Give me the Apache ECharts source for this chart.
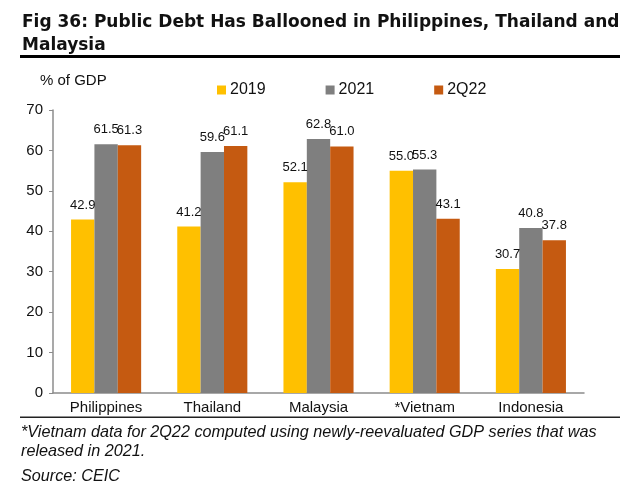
<!DOCTYPE html>
<html>
<head>
<meta charset="utf-8">
<script src="https://cdn.jsdelivr.net/npm/echarts@6/dist/echarts.min.js"></script>
<style>
html,body{margin:0;padding:0;background:#fff;}
#chart{width:640px;height:490px;}
</style>
</head>
<body>
<div id="chart"></div>
<script>
const categories = ['Philippines', 'Thailand', 'Malaysia', '*Vietnam', 'Indonesia'];
const seriesNames = ['2019', '2021', '2Q22'];
const values2019 = [42.9, 41.2, 52.1, 55.0, 30.7];
const values2021 = [61.5, 59.6, 62.8, 55.3, 40.8];
const values2Q22 = [61.3, 61.1, 61.0, 43.1, 37.8];
const yTicks = [0, 10, 20, 30, 40, 50, 60, 70];
const colors = ['#FFC000', '#7F7F7F', '#C55A11'];

const chart = echarts.init(document.getElementById('chart'), null, {renderer: 'canvas'});

function barSeries(name, data, color) {
  return {
    name: name,
    type: 'bar',
    data: data,
    barGap: '0%',
    barCategoryGap: '34%',
    itemStyle: {color: color},
    label: {
      show: true,
      position: 'top',
      distance: 8,
      color: '#111',
      fontFamily: 'Liberation Sans',
      fontSize: 13,
      formatter: p => p.value.toFixed(1)
    }
  };
}

chart.setOption({
  animation: false,
  backgroundColor: '#fff',
  title: {
    text: 'Fig 36: Public Debt Has Ballooned in Philippines, Thailand and\nMalaysia',
    left: 17,
    top: 6,
    textStyle: {
      fontFamily: 'DejaVu Sans',
      fontWeight: 'bold',
      fontSize: 17,
      lineHeight: 23,
      color: '#111'
    }
  },
  legend: {
    data: seriesNames,
    left: 212,
    top: 77,
    itemWidth: 9,
    itemHeight: 9,
    itemGap: 60,
    icon: 'rect',
    textStyle: {fontFamily: 'Liberation Sans', fontSize: 16, color: '#111', padding: [0, 0, 0, -1]}
  },
  grid: {left: 53, right: 56, top: 110, bottom: 97, containLabel: false},
  xAxis: {
    type: 'category',
    data: categories,
    axisLine: {lineStyle: {color: '#8c8c8c', width: 1.5}},
    axisTick: {show: false},
    axisLabel: {fontFamily: 'Liberation Sans', fontSize: 15, color: '#111', margin: 7}
  },
  yAxis: {
    type: 'value',
    min: yTicks[0],
    max: yTicks[yTicks.length - 1],
    interval: 10,
    splitLine: {show: false},
    axisLine: {show: true, lineStyle: {color: '#8c8c8c', width: 1.5}},
    axisTick: {show: true, length: 4, lineStyle: {color: '#8c8c8c'}},
    axisLabel: {fontFamily: 'Liberation Sans', fontSize: 15, color: '#111', margin: 10}
  },
  graphic: [
    {type: 'rect', shape: {x: 20, y: 55, width: 600, height: 3}, style: {fill: '#000'}},
    {type: 'text', left: 40, top: 73, style: {text: '% of GDP', font: '15px "Liberation Sans"', fill: '#111'}},
    {type: 'rect', shape: {x: 20, y: 416.5, width: 600, height: 1.5}, style: {fill: '#222'}},
    {type: 'text', left: 21, top: 424, style: {text: '*Vietnam data for 2Q22 computed using newly-reevaluated GDP series that was', font: 'italic 16.2px "Liberation Sans"', fill: '#111'}},
    {type: 'text', left: 21, top: 443, style: {text: 'released in 2021.', font: 'italic 16.2px "Liberation Sans"', fill: '#111'}},
    {type: 'text', left: 21, top: 468, style: {text: 'Source: CEIC', font: 'italic 16.2px "Liberation Sans"', fill: '#111'}}
  ],
  series: [
    barSeries(seriesNames[0], values2019, colors[0]),
    barSeries(seriesNames[1], values2021, colors[1]),
    barSeries(seriesNames[2], values2Q22, colors[2])
  ]
});
</script>
</body>
</html>
